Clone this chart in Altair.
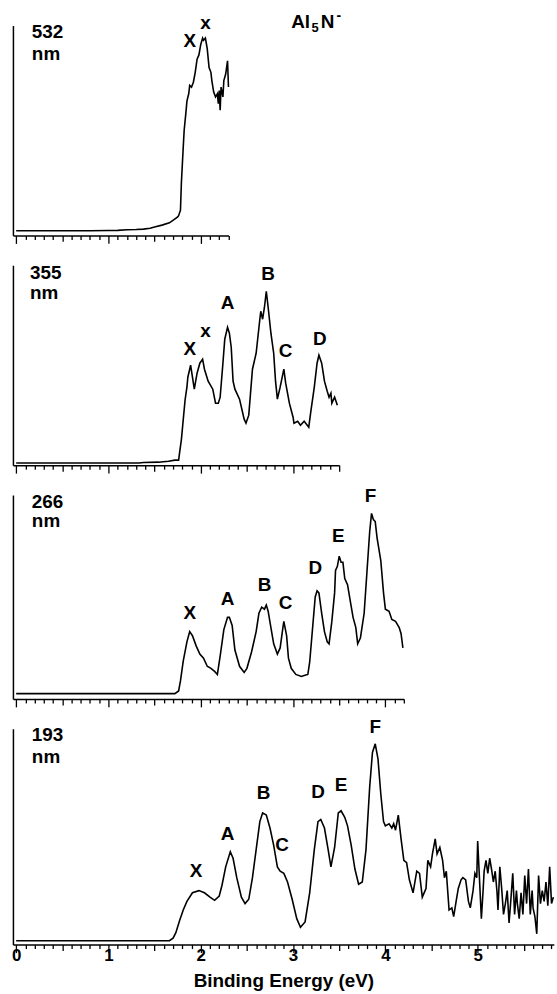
import altair as alt
import pandas as pd

# ---------------- data ----------------
# 532 nm
E1 = [0.00, 0.40, 0.80, 1.00, 1.10, 1.20, 1.30, 1.38, 1.45, 1.51, 1.58, 1.66, 1.71, 1.75, 1.76, 1.78,
      1.79, 1.81, 1.82, 1.84, 1.85, 1.87, 1.88, 1.90, 1.92, 1.94, 1.96, 1.98, 2.00, 2.02, 2.03, 2.05,
      2.07, 2.09, 2.11, 2.12, 2.14, 2.16, 2.18, 2.19, 2.20, 2.21, 2.22, 2.24, 2.25, 2.27, 2.29, 2.30]
I1 = [2.2, 2.2, 2.2, 2.3, 2.4, 2.7, 2.8, 3.0, 3.4, 4.1, 4.9, 6.0, 7.5, 8.8, 9.4, 12,
      25, 42, 50, 59, 64, 67.6, 71.5, 70.7, 73, 77.7, 84, 86, 91, 94, 93, 94,
      89, 80, 77.7, 73.8, 68.3, 66, 67.5, 62.8, 69, 59.7, 70.7, 66, 73.8, 76.9, 83.2, 70.7]

# 355 nm
E2 = [0.00, 0.80, 1.33, 1.38, 1.54, 1.65, 1.72, 1.76, 1.77, 1.79, 1.83, 1.85, 1.86, 1.89, 1.91, 1.93,
      1.96, 1.99, 2.02, 2.04, 2.08, 2.13, 2.16, 2.19, 2.21, 2.24, 2.26, 2.29, 2.31, 2.33, 2.35, 2.37,
      2.42, 2.47, 2.49, 2.52, 2.56, 2.60, 2.64, 2.65, 2.67, 2.69, 2.71, 2.73, 2.76, 2.79, 2.81, 2.83,
      2.86, 2.90, 2.92, 2.96, 3.00, 3.01, 3.05, 3.08, 3.12, 3.17, 3.19, 3.23, 3.26, 3.28, 3.31, 3.34,
      3.37, 3.39, 3.41, 3.42, 3.45, 3.48]
I2 = [1.1, 1.1, 1.1, 1.3, 1.5, 2.0, 2.5, 2.5, 6, 12.8, 32.6, 39, 44, 50, 44, 38,
      46, 51, 53, 48, 42, 38, 31, 31, 34, 51, 63, 69, 66, 59, 42, 38,
      33, 23, 21, 25, 48, 56, 73, 77, 73, 79, 87, 79, 66, 56, 42, 33,
      39, 48, 41, 31, 24, 21, 22, 20, 22, 19, 26, 39, 51, 55, 51, 42,
      37, 34, 36, 31, 34, 30]

# 266 nm
E3 = [0.00, 1.00, 1.72, 1.76, 1.78, 1.81, 1.85, 1.88, 1.91, 1.95, 1.99, 2.03, 2.07, 2.11, 2.15, 2.18,
      2.21, 2.25, 2.29, 2.31, 2.34, 2.37, 2.42, 2.47, 2.50, 2.55, 2.60, 2.63, 2.66, 2.69, 2.71, 2.73,
      2.76, 2.79, 2.83, 2.86, 2.89, 2.90, 2.93, 2.95, 2.98, 3.03, 3.09, 3.12, 3.16, 3.18, 3.21, 3.24,
      3.26, 3.28, 3.31, 3.34, 3.37, 3.39, 3.42, 3.45, 3.46, 3.48, 3.50, 3.52, 3.54, 3.56, 3.59, 3.62,
      3.65, 3.68, 3.70, 3.73, 3.77, 3.80, 3.83, 3.85, 3.87, 3.89, 3.91, 3.95, 3.98, 4.00, 4.04, 4.07,
      4.11, 4.15, 4.17, 4.19]
I3 = [2.6, 2.6, 2.6, 3.9, 8.8, 18.5, 28, 33, 31, 26, 22, 20, 16, 15, 13.5, 12,
      21, 34, 40, 40, 36, 24, 16, 13, 15, 23, 33, 42, 45, 44, 46, 43,
      35, 27, 22, 25, 35, 38, 31, 20, 15, 12, 11, 11.5, 12, 18, 34, 50,
      53, 52, 42, 33, 28, 27, 38, 52, 63, 65, 70, 67, 67, 59, 56, 48,
      40, 35, 27, 30, 42, 62, 82, 91, 88, 87, 79, 68, 52, 44, 43, 39,
      38, 35, 32, 25]

# 193 nm
E4 = [0.00, 0.50, 1.00, 1.50, 1.66, 1.70, 1.73, 1.77, 1.81, 1.85, 1.91, 1.98, 2.04, 2.10, 2.15, 2.20,
      2.23, 2.27, 2.32, 2.35, 2.39, 2.44, 2.48, 2.52, 2.56, 2.60, 2.64, 2.67, 2.71, 2.75, 2.79, 2.83,
      2.86, 2.90, 2.94, 2.99, 3.04, 3.08, 3.13, 3.18, 3.23, 3.27, 3.30, 3.34, 3.38, 3.41, 3.45, 3.49,
      3.52, 3.56, 3.59, 3.63, 3.67, 3.71, 3.75, 3.79, 3.83, 3.86, 3.89, 3.92, 3.95, 3.98, 4.00, 4.04,
      4.07, 4.09, 4.11, 4.14, 4.17, 4.20, 4.23, 4.26, 4.30, 4.34, 4.37, 4.40, 4.44, 4.46, 4.49, 4.51,
      4.54, 4.56, 4.59, 4.62, 4.64, 4.66, 4.69, 4.72, 4.74, 4.77, 4.79, 4.82, 4.84, 4.87, 4.90, 4.92,
      4.95, 4.97, 4.99, 5.00, 5.02, 5.04, 5.06, 5.07, 5.09, 5.11, 5.13, 5.15, 5.17, 5.19, 5.21, 5.22,
      5.24, 5.26, 5.28, 5.30, 5.32, 5.34, 5.36, 5.38, 5.40, 5.42, 5.43, 5.45, 5.47, 5.49, 5.51, 5.53,
      5.55, 5.57, 5.59, 5.60, 5.62, 5.64, 5.66, 5.68, 5.70, 5.72, 5.74, 5.76, 5.78, 5.80, 5.82]
I4 = [1.8, 1.8, 1.8, 1.8, 1.8, 3, 5.5, 11, 16, 20, 24, 25, 24, 22, 20.5, 22.5,
      27.5, 36, 43, 40, 31, 22, 19, 21, 31, 44, 57, 61, 60, 54, 46, 36,
      34, 33, 29, 21, 12, 8, 10.5, 24, 44, 57, 58, 54, 44, 36, 45, 61,
      62, 59, 55, 46, 35, 28, 29, 44, 73, 89, 93, 86, 70, 57, 55, 56,
      54, 56, 53, 60, 49, 39, 38, 30, 24, 34, 33, 22, 26, 39, 36, 42,
      49, 42, 45, 39, 31, 34, 16, 17, 13, 21, 26, 30, 31, 30, 20, 17,
      25, 33, 31, 48, 30, 12, 26, 34, 39, 33, 40, 35, 29, 34, 24, 16,
      36, 26, 14, 19, 25, 10, 21, 33, 14, 25, 19, 12, 24, 14, 32, 19,
      35, 14, 25, 17, 13, 5, 32, 19, 25, 20, 29, 18, 36, 19, 22]

# peak labels
PK1_T = ["X", "x"]
PK1_E = [1.88, 2.05]
PK1_I = [92.5, 101]
PK2_T = ["X", "x", "A", "B", "C", "D"]
PK2_E = [1.88, 2.05, 2.29, 2.73, 2.92, 3.29]
PK2_I = [58, 67, 81, 95.5, 57, 63]
PK3_T = ["X", "A", "B", "C", "D", "E", "F"]
PK3_E = [1.88, 2.29, 2.69, 2.92, 3.24, 3.49, 3.84]
PK3_I = [42, 49, 56, 47, 64, 80, 99.5]
PK4_T = ["X", "A", "B", "C", "D", "E", "F"]
PK4_E = [1.95, 2.29, 2.68, 2.88, 3.27, 3.52, 3.89]
PK4_I = [34, 51, 70, 46, 70.5, 74, 101]

# wavelength labels
WL = ["532", "355", "266", "193"]
WL_E = [0.17, 0.15, 0.17, 0.17]
WL_I_TOP = [97, 96, 96.8, 97]
WL_I_BOT = [86.4, 86.0, 87.3, 86.8]

# species label Al5N- (pieces)
SP_T = ["Al", "5", "N", "-"]
SP_E = [2.98, 3.20, 3.30, 3.47]
SP_I = [101.6, 98.8, 101.6, 104.5]
SP_FS = [19, 13, 19, 14]

XMAX = [2.3, 3.5, 4.2, 5.825]
HEIGHTS = [211, 201, 205, 217]

# ---------------- chart ----------------
PX_PER_EV = 92.8
E_MIN = -0.035
FONT = "Liberation Sans"

TICK_SIZE = {"condition": [{"test": "datum.value % 1 === 0", "value": 8},
                           {"test": "datum.value % 0.5 === 0", "value": 6}],
             "value": 4}


def panel(E, I, xmax, height, pk_t, pk_e, pk_i, wl, wl_e, wl_itop, wl_ibot, bottom=False, species=False):
    width = (xmax - E_MIN) * PX_PER_EV
    ticks = [round(0.1 * k, 1) for k in range(int(round(xmax * 10)) + 1)]
    ticks = [t for t in ticks if t <= xmax]
    xs = alt.Scale(domain=[E_MIN, xmax], nice=False, zero=False)
    ys = alt.Scale(domain=[0, 100], nice=False, zero=False)
    common = dict(values=ticks, tickSize=TICK_SIZE, tickWidth=1.3, tickColor="black",
                  domainColor="black", domainWidth=1.5, grid=False)
    if bottom:
        xaxis = alt.Axis(**common,
                         labelExpr="datum.value % 1 === 0 ? format(datum.value, 'd') : ''",
                         labelFlush=False, labelOverlap=False, labelFont=FONT, labelFontSize=17,
                         labelFontWeight="bold", labelColor="black", labelPadding=-5,
                         title="Binding Energy (eV)", titleFont=FONT, titleFontSize=19,
                         titleFontWeight="bold", titleColor="black", titlePadding=8)
    else:
        xaxis = alt.Axis(**common, labels=False, title=None)
    yaxis = alt.Axis(ticks=False, labels=False, grid=False, title=None,
                     domainColor="black", domainWidth=1.5)

    def enc(ch):
        return ch.encode(x=alt.X("E:Q", scale=xs, axis=xaxis),
                         y=alt.Y("I:Q", scale=ys, axis=yaxis))

    line = enc(alt.Chart(pd.DataFrame({"E": E, "I": I})).mark_line(
        color="black", strokeWidth=1.6))

    pk = enc(alt.Chart(pd.DataFrame({"t": pk_t, "E": pk_e, "I": pk_i})).mark_text(
        font=FONT, fontSize=19, fontWeight="bold", color="black", align="center", baseline="middle"
    )).encode(text="t:N")

    wl_df = pd.DataFrame({"t": [wl, "nm"], "E": [wl_e, wl_e], "I": [wl_itop, wl_ibot]})
    wlt = enc(alt.Chart(wl_df).mark_text(
        font=FONT, fontSize=19, fontWeight="bold", color="black", align="left", baseline="middle"
    )).encode(text="t:N")

    layers = [line, pk, wlt]
    if species:
        sp = enc(alt.Chart(pd.DataFrame({"t": SP_T, "E": SP_E, "I": SP_I, "fs": SP_FS})).mark_text(
            font=FONT, fontWeight="bold", color="black", align="left", baseline="middle"
        )).encode(text="t:N", size=alt.Size("fs:Q", scale=None, legend=None))
        layers.append(sp)
    return alt.layer(*layers).properties(width=width, height=height)


p1 = panel(E1, I1, XMAX[0], HEIGHTS[0], PK1_T, PK1_E, PK1_I, WL[0], WL_E[0], WL_I_TOP[0], WL_I_BOT[0], species=True)
p2 = panel(E2, I2, XMAX[1], HEIGHTS[1], PK2_T, PK2_E, PK2_I, WL[1], WL_E[1], WL_I_TOP[1], WL_I_BOT[1])
p3 = panel(E3, I3, XMAX[2], HEIGHTS[2], PK3_T, PK3_E, PK3_I, WL[2], WL_E[2], WL_I_TOP[2], WL_I_BOT[2])
p4 = panel(E4, I4, XMAX[3], HEIGHTS[3], PK4_T, PK4_E, PK4_I, WL[3], WL_E[3], WL_I_TOP[3], WL_I_BOT[3], bottom=True)

chart = alt.vconcat(p1, p2, p3, p4, spacing=30, bounds="flush").resolve_scale(
    x="independent", y="independent"
).configure_view(stroke=None).properties(
    padding={"left": 11, "top": 6, "right": 0, "bottom": 0},
    autosize=alt.AutoSizeParams(type="pad"),
    background="white",
)

chart.save("out.html", embed_options={"renderer": "svg", "actions": False})
